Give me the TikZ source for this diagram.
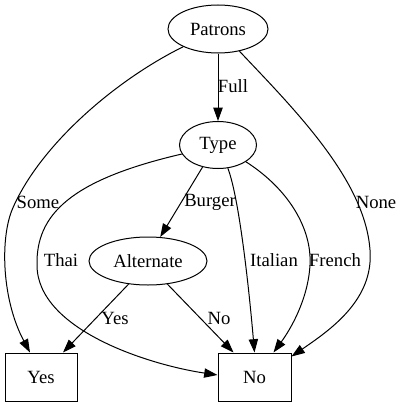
\documentclass[tikz,border=0pt]{standalone}
\usepackage{fontspec}
\setmainfont{Liberation Serif}
\usetikzlibrary{arrows.meta,shapes.geometric,calc}
\begin{document}
\begin{tikzpicture}[x=0.75pt,y=-0.75pt,
  every node/.style={font=\fontsize{14}{16}\selectfont},
  ell/.style={draw,ellipse,inner sep=0pt,line width=0.75pt,minimum height=36pt},
  box/.style={draw,rectangle,inner sep=0pt,line width=0.75pt,minimum width=54pt,minimum height=36pt},
  edge/.style={line width=0.75pt,-{Triangle[length=10pt,width=7pt]}},
  lbl/.style={inner sep=0pt}]
\useasboundingbox (0,0) rectangle (401,407);
\node[ell,minimum width=75pt] (P) at (218,29) {Patrons};
\node[ell,minimum width=57.75pt,minimum height=35.25pt] (T) at (218,145) {Type};
\node[ell,minimum width=88.5pt] (A) at (148,261) {Alternate};
\node[box] (Y) at (41,377) {Yes};
\node[box,minimum width=54.75pt] (N) at (254.5,377) {No};
% edges
\draw[edge] (P.south) -- (T.north);
\draw[edge] (P.207) .. controls (112,82) and (38,148) .. (12,210)
  .. controls (0,240) and (2,300) .. ($(Y.north)+(-11,0)$);
\draw[edge] (P.314) .. controls (295,110) and (365,180) .. (370,250)
  .. controls (374,300) and (330,330) .. ($(N.north east)+(0,4)$);
\draw[edge] (T.235) -- (A.63);
\draw[edge] (T.194) .. controls (70,180) and (36,215) .. (37,265)
  .. controls (37,330) and (150,365) .. ($(N.west)+(0,-2)$);
\draw[edge] (T.293) .. controls (240,200) and (250,300) .. (N.north);
\draw[edge] (T.329) .. controls (290,190) and (312,230) .. (310,265)
  .. controls (308,300) and (290,330) .. ($(N.north)+(19,0)$);
\draw[edge] (A.230) -- ($(Y.north)+(22,0)$);
\draw[edge] (A.310) -- ($(N.north)+(-21,0)$);
% labels
\node[lbl] (lFull) at (233,86) {Full};
\node[lbl] (lSome) at (38,202) {Some};
\node[lbl] (lNone) at (376,202) {None};
\node[lbl] (lBurger) at (210,202) {Burger};
\node[lbl] (lThai) at (61,260) {Thai};
\node[lbl] (lItalian) at (274,260) {Italian};
\node[lbl] (lFrench) at (335,260) {French};
\node[lbl] (lYes) at (115,318) {Yes};
\node[lbl] (lNo) at (219,318) {No};
\end{tikzpicture}
\end{document}
